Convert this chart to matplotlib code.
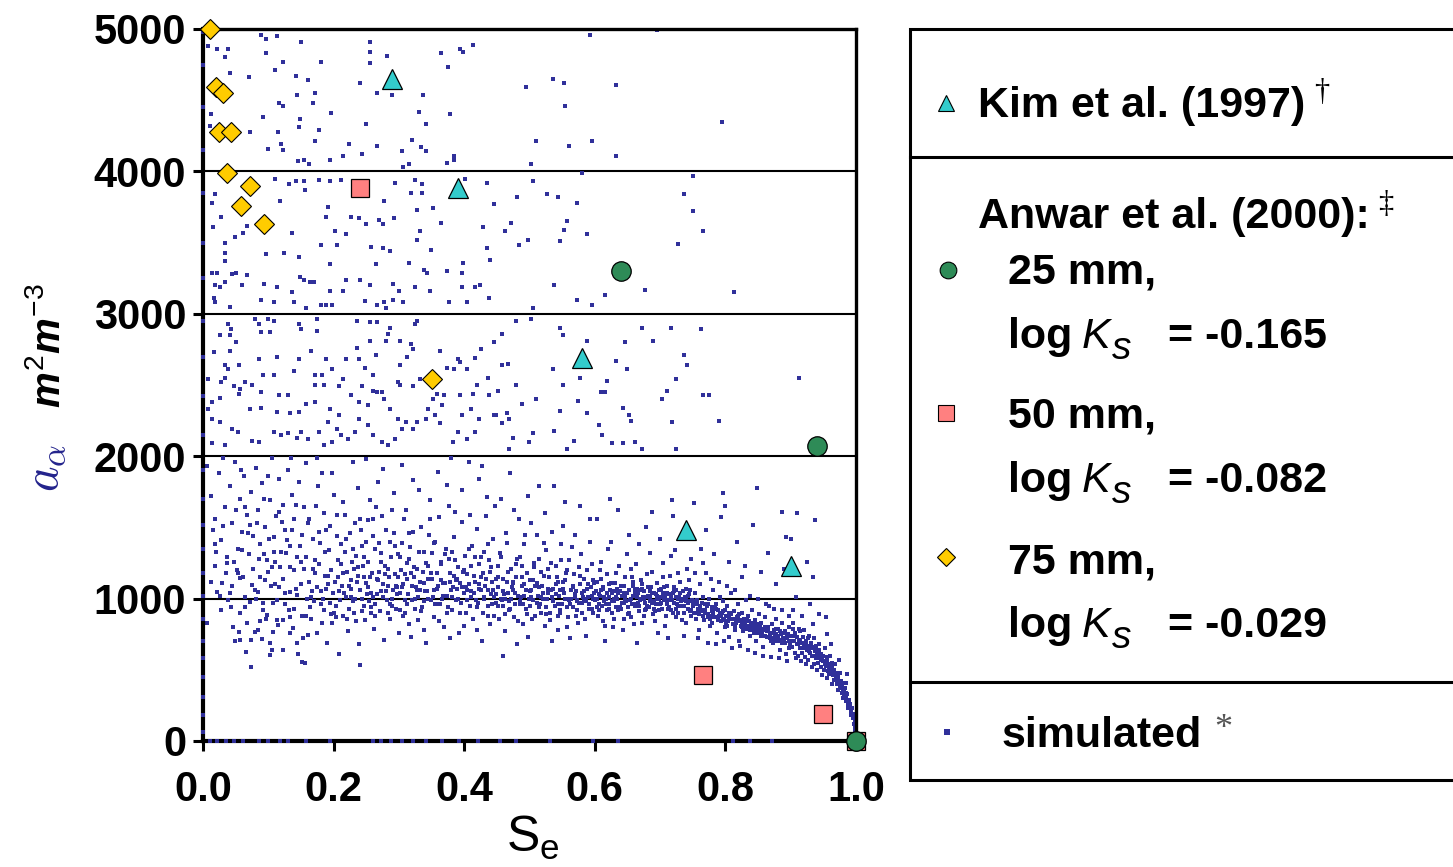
### PACKAGES ###
import numpy as np
import matplotlib
matplotlib.use('Agg')
import matplotlib.pyplot as plt
from matplotlib.patches import Rectangle
from matplotlib.lines import Line2D

plt.rcParams['font.family'] = ['Liberation Sans', 'DejaVu Sans']
plt.rcParams['mathtext.fontset'] = 'custom'
plt.rcParams['mathtext.rm'] = 'Liberation Sans'
plt.rcParams['mathtext.it'] = 'Liberation Sans:italic:bold'
plt.rcParams['mathtext.bf'] = 'Liberation Sans:bold'

### DATA ###
# measured points (Se, a_a in m2/m3)
kim_se = [0.29, 0.39, 0.58, 0.74, 0.90]
kim_aa = [4650, 3880, 2690, 1480, 1230]
anwar25_se = [0.64, 0.94, 1.00]
anwar25_aa = [3300, 2075, 0]
anwar50_se = [0.24, 0.765, 0.95, 1.00]
anwar50_aa = [3880, 460, 190, 0]
anwar75_se = [0.011, 0.020, 0.031, 0.025, 0.043, 0.037, 0.072, 0.058, 0.093, 0.351]
anwar75_aa = [5000, 4590, 4550, 4280, 4280, 3990, 3900, 3760, 3630, 2540]

# simulated cloud, read off the picture region by region (Se, a_a)
sim_top = [
    (0.089, 4960), (0.096, 4930), (0.113, 4950), (0.150, 4910), (0.256, 4910), (0.282, 4810), (0.364, 4830),
    (0.393, 4860), (0.398, 4840), (0.414, 4890), (0.592, 4960), (0.696, 4990), (0.008, 4880), (0.021, 4860),
    (0.038, 4860), (0.034, 4800), (0.096, 4830), (0.123, 4770), (0.180, 4770), (0.256, 4840), (0.256, 4760),
    (0.375, 4730), (0.111, 4710), (0.041, 4690), (0.070, 4660), (0.142, 4670), (0.161, 4640), (0.241, 4620),
    (0.267, 4550), (0.289, 4540), (0.337, 4540), (0.171, 4550), (0.144, 4540), (0.116, 4480), (0.123, 4460),
    (0.168, 4480), (0.196, 4410), (0.331, 4420), (0.378, 4400), (0.092, 4380), (0.149, 4370), (0.147, 4310),
    (0.178, 4290), (0.250, 4330), (0.341, 4330), (0.072, 4280), (0.115, 4280), (0.494, 4590), (0.536, 4650),
    (0.553, 4620), (0.633, 4610), (0.555, 4460), (0.795, 4350), (0.012, 4400), (0.011, 4320), (0.171, 4210),
    (0.224, 4190), (0.267, 4180), (0.320, 4220), (0.334, 4170), (0.341, 4140), (0.304, 4140), (0.384, 4110),
    (0.385, 4080), (0.243, 4120), (0.215, 4110), (0.195, 4080), (0.154, 4080), (0.145, 4070), (0.163, 4050),
    (0.373, 4060), (0.316, 4050), (0.306, 4030), (0.099, 4160), (0.120, 4190), (0.122, 4150), (0.510, 4210),
    (0.560, 4180), (0.596, 4210), (0.632, 4110), (0.503, 4050),
]
sim_mid = [
    (0.111, 3950), (0.131, 3910), (0.142, 3930), (0.154, 3930), (0.156, 3870), (0.178, 3940), (0.194, 3930),
    (0.212, 3940), (0.277, 3790), (0.294, 3920), (0.325, 3940), (0.335, 3910), (0.318, 3850), (0.335, 3850),
    (0.327, 3730), (0.352, 3740), (0.401, 3950), (0.435, 3920), (0.446, 3770), (0.481, 3820), (0.505, 3930),
    (0.527, 3840), (0.544, 3820), (0.573, 3780), (0.581, 3990), (0.736, 3840), (0.751, 3970), (0.751, 3720),
    (0.766, 3580), (0.727, 3490), (0.014, 3780), (0.019, 3840), (0.027, 3680), (0.015, 3610), (0.034, 3500),
    (0.049, 3540), (0.062, 3570), (0.067, 3620), (0.118, 3790), (0.137, 3570), (0.192, 3750), (0.188, 3680),
    (0.202, 3580), (0.219, 3560), (0.226, 3680), (0.239, 3670), (0.250, 3630), (0.270, 3660), (0.275, 3630),
    (0.293, 3670), (0.332, 3580), (0.328, 3520), (0.364, 3640), (0.349, 3450), (0.429, 3610), (0.463, 3580),
    (0.472, 3640), (0.497, 3520), (0.484, 3480), (0.546, 3510), (0.553, 3590), (0.557, 3650), (0.588, 3560),
    (0.435, 3460), (0.440, 3380), (0.257, 3470), (0.275, 3460), (0.287, 3440), (0.181, 3480), (0.205, 3480),
    (0.147, 3400), (0.124, 3430), (0.096, 3420), (0.034, 3430), (0.034, 3370), (0.014, 3290), (0.021, 3290),
    (0.044, 3280), (0.051, 3290), (0.068, 3270), (0.034, 3220), (0.019, 3200), (0.026, 3190), (0.060, 3200),
    (0.094, 3210), (0.113, 3190), (0.149, 3260), (0.154, 3240), (0.164, 3220), (0.170, 3220), (0.195, 3350),
    (0.195, 3160), (0.219, 3240), (0.241, 3240), (0.256, 3200), (0.265, 3350), (0.291, 3210), (0.300, 3160),
    (0.315, 3360), (0.339, 3310), (0.343, 3290), (0.374, 3300), (0.398, 3360), (0.397, 3290), (0.325, 3190),
    (0.347, 3160), (0.397, 3190), (0.417, 3190), (0.424, 3200), (0.538, 3200), (0.677, 3170), (0.813, 3150),
    (0.616, 3130), (0.573, 3100), (0.595, 3060), (0.506, 3040), (0.438, 3110), (0.376, 3080), (0.405, 3080),
    (0.017, 3110), (0.019, 3080), (0.041, 3050), (0.089, 3100), (0.109, 3080), (0.137, 3150), (0.140, 3080),
    (0.157, 3040), (0.181, 3060), (0.188, 3060), (0.198, 3060), (0.215, 3160), (0.248, 3090), (0.267, 3060),
    (0.280, 3040), (0.277, 3080), (0.306, 3080), (0.291, 3100),
]
sim_low = [
    (0.038, 2930), (0.043, 2890), (0.041, 2850), (0.026, 2850), (0.051, 2800), (0.017, 2730), (0.041, 2740),
    (0.034, 2640), (0.055, 2640), (0.038, 2610), (0.034, 2550), (0.007, 2540), (0.027, 2520), (0.048, 2490),
    (0.057, 2470), (0.065, 2520), (0.075, 2500), (0.089, 2450), (0.055, 2440), (0.026, 2410), (0.014, 2380),
    (0.007, 2330), (0.014, 2260), (0.026, 2240), (0.044, 2190), (0.053, 2170), (0.075, 2110), (0.086, 2100),
    (0.014, 2090), (0.034, 2080), (0.079, 2960), (0.086, 2930), (0.100, 2960), (0.108, 2950), (0.089, 2870),
    (0.103, 2870), (0.086, 2680), (0.092, 2570), (0.109, 2570), (0.113, 2700), (0.116, 2430), (0.130, 2430),
    (0.072, 2330), (0.089, 2340), (0.113, 2310), (0.133, 2300), (0.147, 2310), (0.109, 2170), (0.120, 2150),
    (0.130, 2160), (0.144, 2130), (0.150, 2170), (0.161, 2120), (0.147, 2930), (0.150, 2890), (0.174, 2960),
    (0.174, 2880), (0.166, 2740), (0.188, 2680), (0.147, 2680), (0.140, 2600), (0.171, 2570), (0.183, 2570),
    (0.198, 2610), (0.215, 2540), (0.209, 2490), (0.185, 2500), (0.171, 2500), (0.157, 2370), (0.171, 2380),
    (0.195, 2330), (0.209, 2290), (0.192, 2240), (0.205, 2190), (0.212, 2150), (0.178, 2170), (0.185, 2080),
    (0.198, 2100), (0.236, 2950), (0.256, 2940), (0.267, 2940), (0.287, 2900), (0.284, 2860), (0.256, 2810),
    (0.280, 2810), (0.301, 2810), (0.318, 2790), (0.325, 2930), (0.327, 2950), (0.236, 2760), (0.219, 2680),
    (0.239, 2680), (0.265, 2710), (0.248, 2620), (0.260, 2570), (0.301, 2640), (0.313, 2700), (0.321, 2750),
    (0.298, 2520), (0.301, 2500), (0.321, 2490), (0.332, 2540), (0.363, 2740), (0.390, 2680), (0.393, 2660),
    (0.374, 2620), (0.384, 2610), (0.404, 2610), (0.417, 2690), (0.426, 2750), (0.445, 2800), (0.458, 2860),
    (0.480, 2950), (0.503, 2960), (0.547, 2900), (0.552, 2850), (0.588, 2810), (0.646, 2800), (0.672, 2900),
    (0.689, 2810), (0.716, 2900), (0.763, 2890), (0.736, 2710), (0.741, 2640), (0.632, 2670), (0.650, 2610),
    (0.577, 2550), (0.536, 2610), (0.436, 2550), (0.458, 2640), (0.467, 2650), (0.419, 2500), (0.393, 2430),
    (0.414, 2440), (0.438, 2430), (0.451, 2460), (0.479, 2500), (0.489, 2370), (0.510, 2400), (0.552, 2500),
    (0.575, 2390), (0.588, 2300), (0.609, 2450), (0.616, 2450), (0.619, 2530), (0.643, 2340), (0.653, 2290),
    (0.655, 2250), (0.703, 2400), (0.710, 2460), (0.725, 2540), (0.766, 2430), (0.775, 2430), (0.790, 2250),
    (0.912, 2550), (0.718, 2240), (0.546, 2320), (0.607, 2220), (0.611, 2150), (0.626, 2090), (0.643, 2090),
    (0.662, 2100), (0.672, 2050), (0.725, 2050), (0.568, 2110), (0.558, 2050), (0.537, 2180), (0.506, 2160),
    (0.499, 2100), (0.475, 2130), (0.469, 2050), (0.458, 2230), (0.469, 2260), (0.445, 2290), (0.423, 2260),
    (0.417, 2170), (0.404, 2120), (0.390, 2170), (0.383, 2100), (0.363, 2230), (0.356, 2290), (0.342, 2260),
    (0.328, 2240), (0.321, 2190), (0.311, 2240), (0.304, 2190), (0.294, 2120), (0.284, 2080), (0.274, 2100),
    (0.260, 2150), (0.253, 2220), (0.239, 2260), (0.233, 2170), (0.222, 2120), (0.287, 2330), (0.298, 2260),
    (0.345, 2330), (0.366, 2360), (0.352, 2400), (0.359, 2440), (0.369, 2430), (0.397, 2290), (0.410, 2330),
    (0.448, 2290), (0.465, 2300), (0.260, 2460), (0.267, 2450), (0.274, 2450), (0.277, 2400), (0.253, 2360),
    (0.243, 2490), (0.226, 2430), (0.239, 2380),
]
sim_left = [
    (0.006, 830), (0.028, 920), (0.043, 940), (0.057, 900), (0.046, 800), (0.055, 765), (0.049, 700),
    (0.057, 710), (0.066, 625), (0.073, 520), (0.073, 710), (0.080, 765), (0.084, 780), (0.090, 715),
    (0.103, 690), (0.106, 640), (0.103, 605), (0.123, 640), (0.152, 555), (0.156, 548), (0.113, 850),
    (0.107, 765), (0.133, 760), (0.138, 795), (0.144, 690), (0.153, 725), (0.161, 745), (0.098, 885),
    (0.092, 920), (0.072, 975), (0.123, 850), (0.133, 870), (0.115, 815), (0.021, 1045), (0.029, 1110),
    (0.041, 1040), (0.057, 1145), (0.061, 1150), (0.052, 1200), (0.075, 1095), (0.084, 1045), (0.095, 1130),
    (0.106, 1220), (0.116, 1080), (0.126, 1040), (0.133, 1045), (0.092, 970), (0.107, 970), (0.144, 1025),
    (0.118, 1220), (0.133, 1220), (0.100, 1185), (0.035, 1180), (0.064, 1010), (0.081, 1000), (0.110, 1100),
    (0.140, 930), (0.150, 1100), (0.158, 880), (0.125, 960), (0.068, 830), (0.088, 840), (0.146, 610),
    (0.018, 1230), (0.038, 990), (0.160, 1000), (0.155, 1210),
    (0.006, 1930), (0.012, 1720), (0.018, 1560), (0.024, 1880), (0.027, 1410), (0.033, 1640), (0.036, 1290),
    (0.041, 1790), (0.045, 1530), (0.049, 1960), (0.053, 1350), (0.056, 1700), (0.060, 1470), (0.063, 1860),
    (0.067, 1590), (0.070, 1310), (0.074, 1750), (0.077, 1440), (0.081, 1920), (0.084, 1620), (0.088, 1380),
    (0.091, 1810), (0.095, 1500), (0.098, 1270), (0.102, 1690), (0.105, 1990), (0.109, 1430), (0.112, 1580),
    (0.116, 1840), (0.119, 1330), (0.123, 1660), (0.126, 1480), (0.130, 1900), (0.133, 1370), (0.137, 1730),
    (0.140, 1560), (0.144, 1290), (0.147, 1820), (0.151, 1450), (0.155, 1640), (0.158, 1950), (0.020, 1330),
    (0.030, 1990), (0.047, 1260), (0.058, 1900), (0.072, 1520), (0.086, 1280), (0.094, 1700), (0.108, 1330),
    (0.121, 1540), (0.135, 1990), (0.150, 1260), (0.016, 1480), (0.064, 1640), (0.099, 1860), (0.128, 1410),
    (0.142, 1660),
]
sim_band_a = [
    (0.162, 1120), (0.165, 860), (0.168, 1420), (0.170, 980), (0.173, 1650), (0.175, 760), (0.178, 1240),
    (0.180, 1050), (0.183, 1880), (0.185, 920), (0.187, 1330), (0.190, 690), (0.192, 1160), (0.194, 1510),
    (0.197, 830), (0.199, 1040), (0.201, 1730), (0.204, 950), (0.206, 1270), (0.208, 610), (0.211, 1380),
    (0.213, 1090), (0.215, 880), (0.218, 1590), (0.220, 1190), (0.222, 770), (0.225, 1460), (0.227, 1010),
    (0.229, 1960), (0.232, 900), (0.234, 1300), (0.236, 1120), (0.239, 680), (0.241, 1560), (0.243, 1000),
    (0.245, 1230), (0.248, 850), (0.250, 1400), (0.252, 1080), (0.255, 1690), (0.257, 940), (0.259, 1180),
    (0.262, 790), (0.264, 1350), (0.266, 1030), (0.268, 1820), (0.271, 910), (0.273, 1260), (0.275, 1100),
    (0.277, 710), (0.280, 1480), (0.282, 990), (0.284, 1210), (0.287, 860), (0.289, 1620), (0.291, 1060),
    (0.294, 1370), (0.296, 930), (0.298, 1150), (0.300, 760), (0.163, 1560), (0.171, 1270), (0.179, 1390),
    (0.188, 1070), (0.196, 1200), (0.203, 870), (0.212, 1240), (0.219, 1010), (0.226, 1130), (0.233, 1530),
    (0.240, 1060), (0.247, 1290), (0.254, 980), (0.261, 1440), (0.267, 1140), (0.274, 1580), (0.281, 1050),
    (0.288, 1290), (0.295, 1090), (0.167, 1050), (0.176, 1790), (0.186, 1600), (0.195, 970), (0.205, 1440),
    (0.214, 1680), (0.223, 930), (0.231, 1210), (0.238, 1780), (0.246, 1150), (0.253, 1550), (0.260, 1010),
    (0.269, 1390), (0.276, 1910), (0.285, 1150), (0.293, 1740), (0.299, 1310), (0.182, 830), (0.209, 1050),
    (0.235, 840), (0.258, 900), (0.286, 960), (0.244, 1370), (0.217, 1330), (0.270, 1190), (0.189, 1480),
    (0.228, 1260), (0.292, 1460), (0.265, 1640), (0.249, 1980), (0.198, 1880), (0.174, 1990), (0.240, 537),
    (0.302, 1040), (0.304, 1390), (0.306, 880), (0.309, 1170), (0.311, 1620), (0.313, 960), (0.315, 1280),
    (0.318, 730), (0.320, 1090), (0.322, 1470), (0.324, 1000), (0.327, 1210), (0.329, 850), (0.331, 1760),
    (0.333, 1120), (0.336, 940), (0.338, 1330), (0.340, 1050), (0.342, 690), (0.345, 1230), (0.347, 1560),
    (0.349, 990), (0.351, 1140), (0.354, 870), (0.356, 1400), (0.358, 1070), (0.360, 1890), (0.363, 960),
    (0.365, 1260), (0.367, 1110), (0.369, 800), (0.372, 1350), (0.374, 1020), (0.376, 1650), (0.378, 1180),
    (0.381, 920), (0.383, 1080), (0.385, 1430), (0.387, 990), (0.390, 1220), (0.392, 760), (0.394, 1110),
    (0.396, 1540), (0.399, 1040), (0.401, 1300), (0.403, 900), (0.405, 1170), (0.408, 1960), (0.410, 1010),
    (0.412, 1370), (0.414, 860), (0.417, 1120), (0.419, 1490), (0.421, 970), (0.423, 1240), (0.426, 1060),
    (0.428, 700), (0.430, 1330), (0.432, 1090), (0.435, 1710), (0.437, 950), (0.439, 1190), (0.441, 1030),
    (0.444, 1420), (0.446, 880), (0.448, 1140), (0.303, 1200), (0.310, 990), (0.317, 1360), (0.323, 1150),
    (0.330, 1010), (0.337, 1190), (0.343, 1050), (0.350, 1320), (0.357, 960), (0.364, 1130), (0.370, 1020),
    (0.377, 1280), (0.384, 1160), (0.391, 1000), (0.398, 1190), (0.404, 1060), (0.411, 1230), (0.418, 990),
    (0.425, 1150), (0.431, 1000), (0.438, 1270), (0.445, 1010), (0.308, 1560), (0.321, 1830), (0.334, 1500),
    (0.348, 1690), (0.361, 1570), (0.373, 1800), (0.386, 1610), (0.397, 1760), (0.409, 1590), (0.422, 1840),
    (0.434, 1580), (0.447, 1650), (0.316, 820), (0.339, 780), (0.362, 840), (0.379, 720), (0.400, 810),
    (0.420, 780), (0.440, 820), (0.326, 1080), (0.353, 1060), (0.371, 1110), (0.389, 1070), (0.407, 1100),
    (0.429, 1180), (0.443, 1120), (0.312, 1250), (0.346, 1450), (0.382, 1330), (0.416, 1290), (0.436, 1380),
    (0.305, 1940), (0.380, 1990), (0.427, 1930),
]
sim_band_b = [
    (0.451, 1080), (0.453, 860), (0.455, 1320), (0.458, 990), (0.460, 1140), (0.462, 770), (0.464, 1460),
    (0.467, 1040), (0.469, 920), (0.471, 1210), (0.473, 1080), (0.476, 1620), (0.478, 960), (0.480, 1150),
    (0.482, 840), (0.485, 1290), (0.487, 1010), (0.489, 1090), (0.491, 1380), (0.494, 930), (0.496, 1180),
    (0.498, 730), (0.500, 1050), (0.503, 1530), (0.505, 990), (0.507, 1250), (0.509, 880), (0.512, 1110),
    (0.514, 1790), (0.516, 960), (0.518, 1190), (0.521, 1040), (0.523, 810), (0.525, 1340), (0.527, 1000),
    (0.530, 1150), (0.532, 900), (0.534, 1470), (0.536, 1070), (0.539, 950), (0.541, 1230), (0.543, 780),
    (0.545, 1020), (0.548, 1380), (0.550, 960), (0.552, 1120), (0.554, 1680), (0.557, 1000), (0.559, 870),
    (0.561, 1270), (0.563, 1060), (0.566, 940), (0.568, 1170), (0.570, 1450), (0.572, 990), (0.575, 830),
    (0.577, 1100), (0.579, 1310), (0.581, 970), (0.584, 1050), (0.586, 740), (0.588, 1200), (0.590, 1010),
    (0.593, 1560), (0.595, 930), (0.597, 1130), (0.599, 1040), (0.452, 1230), (0.459, 950), (0.466, 1120),
    (0.472, 1000), (0.479, 1240), (0.486, 980), (0.492, 1100), (0.499, 1000), (0.506, 1130), (0.513, 1020),
    (0.519, 1090), (0.526, 940), (0.533, 1060), (0.540, 1100), (0.546, 900), (0.553, 1040), (0.560, 990),
    (0.567, 1080), (0.573, 920), (0.580, 1040), (0.587, 980), (0.594, 1080), (0.456, 1700), (0.470, 1880),
    (0.484, 1560), (0.497, 1720), (0.511, 1450), (0.524, 1600), (0.538, 1790), (0.551, 1510), (0.565, 1360),
    (0.578, 1650), (0.592, 1400), (0.463, 890), (0.477, 870), (0.490, 820), (0.504, 860), (0.517, 900),
    (0.531, 850), (0.544, 880), (0.558, 800), (0.571, 880), (0.585, 860), (0.598, 900), (0.457, 1000),
    (0.474, 1060), (0.488, 1230), (0.501, 950), (0.515, 1280), (0.529, 1210), (0.542, 1150), (0.556, 1180),
    (0.569, 1010), (0.583, 1140), (0.596, 1240), (0.465, 1390), (0.493, 1450), (0.522, 1390), (0.549, 1270),
    (0.576, 1220), (0.481, 680), (0.535, 700), (0.562, 720), (0.460, 600),
    (0.601, 990), (0.603, 1120), (0.605, 880), (0.607, 1030), (0.609, 1260), (0.611, 950), (0.613, 1080),
    (0.615, 810), (0.617, 1000), (0.619, 1170), (0.621, 930), (0.623, 1060), (0.625, 1400), (0.627, 980),
    (0.629, 860), (0.631, 1110), (0.633, 1010), (0.635, 920), (0.637, 1230), (0.639, 1050), (0.641, 970),
    (0.643, 780), (0.645, 1090), (0.647, 1000), (0.649, 1310), (0.651, 940), (0.653, 1060), (0.655, 870),
    (0.657, 1150), (0.659, 1020), (0.661, 960), (0.663, 1240), (0.665, 1070), (0.667, 910), (0.669, 1000),
    (0.671, 1130), (0.673, 830), (0.675, 1050), (0.677, 970), (0.679, 1500), (0.681, 1080), (0.683, 940),
    (0.685, 1010), (0.687, 1190), (0.689, 890), (0.691, 1040), (0.693, 960), (0.695, 1110), (0.697, 760),
    (0.699, 1000), (0.701, 1070), (0.703, 930), (0.705, 1250), (0.707, 1020), (0.709, 880), (0.711, 1090),
    (0.713, 990), (0.715, 1160), (0.717, 920), (0.719, 1040), (0.721, 970), (0.723, 1340), (0.725, 1060),
    (0.727, 900), (0.729, 1010), (0.731, 1120), (0.733, 850), (0.735, 1000), (0.737, 950), (0.739, 1070),
    (0.741, 1210), (0.743, 930), (0.745, 1030), (0.747, 880), (0.749, 990), (0.602, 1050), (0.606, 960),
    (0.610, 1140), (0.614, 1010), (0.618, 920), (0.622, 1100), (0.626, 1040), (0.630, 980), (0.634, 1070),
    (0.638, 940), (0.642, 1020), (0.646, 1150), (0.650, 1040), (0.654, 990), (0.658, 1090), (0.662, 1030),
    (0.666, 970), (0.670, 1060), (0.674, 1010), (0.678, 930), (0.682, 1020), (0.686, 1080), (0.690, 980),
    (0.694, 1030), (0.698, 920), (0.702, 1010), (0.706, 1080), (0.710, 960), (0.714, 1030), (0.718, 990),
    (0.722, 1050), (0.726, 960), (0.730, 1040), (0.734, 990), (0.738, 1010), (0.742, 970), (0.746, 1060),
    (0.604, 1560), (0.620, 1350), (0.636, 1620), (0.652, 1450), (0.668, 1380), (0.684, 1320), (0.700, 1420),
    (0.716, 1300), (0.732, 1440), (0.748, 1280), (0.612, 840), (0.628, 800), (0.644, 860), (0.660, 820),
    (0.676, 880), (0.692, 840), (0.708, 810), (0.724, 870), (0.740, 830), (0.608, 1200), (0.632, 1180),
    (0.656, 1210), (0.680, 1170), (0.704, 1150), (0.728, 1180), (0.744, 1130), (0.616, 700), (0.664, 690),
    (0.712, 720), (0.736, 740), (0.624, 1700), (0.688, 1610), (0.720, 1580), (0.718, 1690), (0.752, 1670),
]
sim_band_c = [
    (0.751, 950), (0.753, 1040), (0.755, 860), (0.757, 990), (0.759, 780), (0.761, 1100), (0.763, 920),
    (0.765, 1010), (0.767, 850), (0.769, 960), (0.771, 1180), (0.773, 890), (0.775, 1000), (0.777, 810),
    (0.779, 940), (0.781, 1060), (0.783, 870), (0.785, 960), (0.787, 760), (0.789, 920), (0.791, 1010),
    (0.793, 840), (0.795, 900), (0.797, 980), (0.799, 800), (0.801, 880), (0.803, 950), (0.805, 730),
    (0.807, 860), (0.809, 1040), (0.811, 820), (0.813, 910), (0.815, 780), (0.817, 870), (0.819, 960),
    (0.821, 700), (0.823, 840), (0.825, 900), (0.827, 770), (0.829, 860), (0.831, 990), (0.833, 810),
    (0.835, 880), (0.837, 740), (0.839, 830), (0.841, 920), (0.843, 780), (0.845, 850), (0.847, 700),
    (0.849, 810), (0.851, 890), (0.853, 760), (0.855, 830), (0.857, 660), (0.859, 790), (0.861, 870),
    (0.863, 730), (0.865, 800), (0.867, 950), (0.869, 750), (0.871, 820), (0.873, 690), (0.875, 780),
    (0.877, 860), (0.879, 720), (0.881, 790), (0.883, 640), (0.885, 750), (0.887, 830), (0.889, 700),
    (0.891, 770), (0.893, 610), (0.895, 730), (0.897, 800), (0.899, 680), (0.752, 900), (0.756, 960),
    (0.760, 890), (0.764, 970), (0.768, 900), (0.772, 950), (0.776, 880), (0.780, 910), (0.784, 940),
    (0.788, 870), (0.792, 900), (0.796, 850), (0.800, 920), (0.804, 840), (0.808, 890), (0.812, 860),
    (0.816, 830), (0.820, 880), (0.824, 810), (0.828, 850), (0.832, 790), (0.836, 840), (0.840, 800),
    (0.844, 760), (0.848, 820), (0.852, 790), (0.856, 750), (0.860, 800), (0.864, 770), (0.868, 720),
    (0.872, 760), (0.876, 740), (0.880, 700), (0.884, 770), (0.888, 720), (0.892, 690), (0.896, 750),
    (0.754, 1180), (0.766, 1250), (0.778, 1140), (0.790, 1120), (0.802, 1090), (0.814, 1060), (0.826, 1150),
    (0.838, 1020), (0.850, 1000), (0.862, 960), (0.874, 930), (0.886, 920), (0.898, 880), (0.758, 720),
    (0.774, 690), (0.786, 680), (0.798, 700), (0.810, 650), (0.822, 670), (0.834, 640), (0.846, 620),
    (0.858, 600), (0.870, 590), (0.882, 580), (0.894, 560), (0.762, 1350), (0.782, 1310), (0.806, 1260),
    (0.830, 1230), (0.854, 1190), (0.878, 1100), (0.770, 1480), (0.818, 1400), (0.866, 1320), (0.794, 1570),
    (0.842, 1520), (0.890, 1210), (0.780, 830), (0.803, 810), (0.826, 800), (0.850, 760), (0.874, 700),
    (0.898, 650), (0.797, 1740), (0.848, 1780), (0.800, 1650), (0.886, 1610),
    (0.901, 740), (0.902, 660), (0.903, 790), (0.905, 700), (0.906, 620), (0.907, 760), (0.909, 680),
    (0.910, 730), (0.911, 600), (0.913, 710), (0.914, 650), (0.915, 770), (0.917, 690), (0.918, 620),
    (0.919, 730), (0.921, 660), (0.922, 590), (0.923, 700), (0.925, 640), (0.926, 720), (0.927, 570),
    (0.929, 670), (0.930, 620), (0.931, 690), (0.933, 600), (0.934, 650), (0.935, 540), (0.937, 630),
    (0.938, 580), (0.939, 670), (0.941, 610), (0.942, 550), (0.943, 640), (0.945, 590), (0.946, 520),
    (0.947, 610), (0.949, 560), (0.950, 600), (0.951, 500), (0.953, 560), (0.954, 530), (0.955, 590),
    (0.957, 490), (0.958, 540), (0.959, 470), (0.961, 520), (0.962, 480), (0.963, 550), (0.965, 460),
    (0.966, 500), (0.967, 430), (0.969, 480), (0.970, 440), (0.971, 400), (0.973, 450), (0.974, 410),
    (0.975, 370), (0.977, 420), (0.978, 380), (0.979, 340), (0.981, 360), (0.982, 320), (0.983, 370),
    (0.985, 300), (0.986, 330), (0.987, 270), (0.989, 290), (0.990, 240), (0.991, 260), (0.993, 200),
    (0.994, 230), (0.995, 160), (0.996, 190), (0.997, 120), (0.998, 140), (0.998, 80), (0.999, 100),
    (0.999, 50), (1.000, 30), (1.000, 10), (0.904, 830), (0.912, 790), (0.920, 780), (0.928, 740),
    (0.936, 720), (0.944, 680), (0.952, 650), (0.960, 600), (0.968, 540), (0.976, 480), (0.984, 410),
    (0.908, 580), (0.916, 560), (0.924, 540), (0.932, 520), (0.940, 500), (0.948, 460), (0.956, 440),
    (0.964, 400), (0.972, 360), (0.980, 300), (0.988, 230), (0.903, 920), (0.918, 880), (0.934, 820),
    (0.955, 750), (0.908, 1010), (0.930, 960), (0.944, 890), (0.962, 680), (0.974, 570), (0.986, 470),
    (0.910, 1600), (0.937, 1550), (0.934, 1150), (0.954, 870), (0.900, 1420), (0.925, 1260), (0.893, 1430),
]
sim_core = [
    (0.452, 950), (0.461, 1030), (0.468, 980), (0.475, 1110), (0.483, 1020), (0.490, 960), (0.495, 1060),
    (0.502, 1010), (0.508, 1090), (0.515, 940), (0.520, 1000), (0.528, 1070), (0.535, 1010), (0.544, 960),
    (0.547, 1060), (0.555, 1130), (0.558, 940), (0.564, 1000), (0.571, 1050), (0.576, 970), (0.582, 1010),
    (0.589, 1100), (0.591, 930), (0.598, 1000), (0.603, 940), (0.608, 1020), (0.612, 1070), (0.617, 960),
    (0.621, 1010), (0.626, 900), (0.629, 1050), (0.634, 1000), (0.640, 930), (0.644, 1040), (0.648, 980),
    (0.652, 900), (0.657, 960), (0.661, 1060), (0.664, 1010), (0.668, 950), (0.672, 1100), (0.676, 1000),
    (0.680, 950), (0.684, 1050), (0.688, 970), (0.692, 910), (0.696, 1020), (0.700, 960), (0.704, 1040),
    (0.708, 990), (0.712, 930), (0.716, 1000), (0.720, 900), (0.724, 1010), (0.728, 950), (0.732, 980),
    (0.736, 900), (0.740, 1010), (0.744, 980), (0.748, 920), (0.753, 980), (0.757, 900), (0.761, 950),
    (0.765, 880), (0.769, 920), (0.773, 960), (0.777, 860), (0.781, 900), (0.785, 930), (0.789, 850),
    (0.793, 880), (0.797, 910), (0.801, 830), (0.805, 870), (0.809, 900), (0.813, 820), (0.817, 850),
    (0.821, 890), (0.825, 830), (0.829, 800), (0.833, 860), (0.837, 810), (0.841, 780), (0.845, 830),
    (0.849, 770), (0.853, 810), (0.857, 780), (0.861, 740), (0.865, 780), (0.869, 760), (0.873, 720),
    (0.877, 790), (0.881, 740), (0.885, 710), (0.889, 760), (0.893, 720), (0.897, 700), (0.902, 700),
    (0.906, 740), (0.911, 680), (0.915, 710), (0.919, 650), (0.923, 680), (0.928, 630), (0.932, 660),
    (0.936, 600), (0.940, 630), (0.944, 580), (0.948, 590), (0.952, 540), (0.956, 560), (0.960, 500),
    (0.964, 520), (0.968, 470), (0.972, 430), (0.976, 400), (0.980, 350), (0.984, 340), (0.988, 260),
    (0.992, 220), (0.165, 1010), (0.172, 1180), (0.181, 960), (0.191, 1100), (0.200, 900), (0.207, 1150),
    (0.216, 1040), (0.224, 1090), (0.230, 980), (0.237, 1220), (0.244, 910), (0.251, 1030), (0.256, 1150),
    (0.263, 960), (0.272, 1050), (0.279, 1170), (0.283, 900), (0.290, 1000), (0.297, 1080), (0.301, 920),
    (0.307, 1100), (0.314, 1030), (0.319, 1180), (0.325, 930), (0.332, 1060), (0.339, 980), (0.344, 1140),
    (0.352, 1010), (0.359, 1180), (0.366, 1000), (0.373, 900), (0.380, 1060), (0.388, 1130), (0.395, 970),
    (0.402, 1080), (0.409, 950), (0.415, 1040), (0.422, 1100), (0.429, 900), (0.436, 1060), (0.442, 960),
    (0.449, 1030),
]
sim_fill = [
    (0.012, 1120), (0.019, 1380), (0.026, 1020), (0.031, 1510), (0.037, 1250), (0.044, 1090), (0.050, 1620),
    (0.054, 1180), (0.059, 1340), (0.065, 940), (0.069, 1460), (0.076, 1210), (0.079, 1060), (0.083, 1530),
    (0.087, 1150), (0.093, 1310), (0.097, 860), (0.101, 1420), (0.104, 1090), (0.110, 1260), (0.114, 990),
    (0.117, 1610), (0.122, 1140), (0.127, 1320), (0.131, 920), (0.136, 1480), (0.139, 1200), (0.143, 1070),
    (0.148, 1370), (0.152, 880), (0.157, 1290), (0.161, 1530), (0.164, 940), (0.169, 1210), (0.174, 1080),
    (0.177, 1470), (0.184, 1000), (0.187, 1160), (0.193, 1340), (0.196, 890), (0.202, 1120), (0.205, 1590),
    (0.210, 990), (0.214, 1180), (0.219, 1420), (0.221, 860), (0.226, 1070), (0.230, 1350), (0.233, 1000),
    (0.238, 1160), (0.242, 1480), (0.246, 950), (0.249, 1110), (0.253, 1260), (0.257, 1040), (0.260, 1560),
    (0.264, 880), (0.268, 1130), (0.272, 1320), (0.276, 1010), (0.279, 1230), (0.283, 1090), (0.287, 1400),
    (0.290, 950), (0.294, 1170), (0.297, 1030), (0.301, 1290), (0.305, 1080), (0.309, 900), (0.312, 1140),
    (0.316, 1460), (0.320, 990), (0.323, 1220), (0.327, 1060), (0.331, 1330), (0.334, 910), (0.338, 1110),
    (0.342, 1250), (0.345, 1000), (0.349, 1180), (0.353, 1390), (0.356, 960), (0.360, 1090), (0.364, 1240),
    (0.367, 1020), (0.371, 1310), (0.375, 940), (0.378, 1120), (0.382, 1010), (0.386, 1270), (0.389, 1140),
    (0.393, 900), (0.397, 1080), (0.400, 1200), (0.404, 990), (0.408, 1350), (0.411, 1050), (0.415, 1160),
    (0.419, 940), (0.422, 1070), (0.426, 1290), (0.430, 1010), (0.433, 1140), (0.437, 880), (0.441, 1220),
    (0.444, 1060), (0.448, 970), (0.452, 1150), (0.456, 1290), (0.459, 1050), (0.463, 1000), (0.467, 1190),
    (0.470, 930), (0.474, 1120), (0.478, 1040), (0.481, 1280), (0.485, 960), (0.489, 1150), (0.492, 1020),
    (0.496, 890), (0.500, 1130), (0.503, 1060), (0.507, 1220), (0.511, 970), (0.514, 1080), (0.518, 1010),
    (0.522, 1160), (0.525, 890), (0.529, 1040), (0.533, 1250), (0.536, 980), (0.540, 1030), (0.544, 1120),
    (0.547, 920), (0.551, 1070), (0.555, 1000), (0.558, 1200), (0.562, 960), (0.566, 1090), (0.569, 1030),
    (0.573, 980), (0.577, 1160), (0.580, 900), (0.584, 1000), (0.588, 1070), (0.591, 960), (0.595, 1020),
    (0.599, 1110), (0.603, 1000), (0.607, 920), (0.610, 1060), (0.614, 980), (0.618, 1040), (0.622, 960),
    (0.625, 1110), (0.629, 1000), (0.633, 940), (0.636, 1040), (0.640, 1090), (0.644, 970), (0.647, 1020),
    (0.651, 890), (0.655, 1000), (0.658, 1120), (0.662, 950), (0.666, 1040), (0.669, 990), (0.673, 1070),
    (0.677, 920), (0.680, 1010), (0.684, 980), (0.688, 1040), (0.691, 930), (0.695, 1000), (0.699, 1060),
    (0.702, 970), (0.706, 1000), (0.710, 1040), (0.713, 940), (0.717, 1010), (0.721, 1080), (0.724, 930),
    (0.728, 1000), (0.732, 950), (0.735, 1050), (0.739, 980), (0.743, 1020), (0.746, 910), (0.750, 960),
    (0.758, 930), (0.766, 910), (0.774, 870), (0.782, 940), (0.790, 880), (0.798, 860), (0.806, 900),
    (0.814, 800), (0.822, 850), (0.830, 830), (0.838, 780), (0.846, 800), (0.854, 740), (0.862, 780),
    (0.870, 700), (0.878, 750), (0.886, 690), (0.894, 740), (0.912, 700), (0.926, 660), (0.938, 650),
    (0.946, 570), (0.958, 510), (0.966, 470), (0.978, 410), (0.984, 280), (0.992, 180),
]
# dots lying on the axes
sim_on_yaxis_aa = [60, 180, 310, 450, 580, 700, 860, 1020, 1180, 1350, 1520, 1700, 1900, 2150, 2420,
                   2700, 2950, 3250, 3500, 3850, 4150, 4450, 4750, 4980]
sim_on_xaxis_se = [0.010, 0.022, 0.035, 0.048, 0.062, 0.085, 0.100, 0.118, 0.130, 0.158, 0.195, 0.260,
                   0.272, 0.288, 0.305, 0.322, 0.341, 0.366, 0.392, 0.421, 0.455, 0.480, 0.532, 0.598,
                   0.636, 0.812, 0.838, 0.872]

x_ticks = [0.0, 0.2, 0.4, 0.6, 0.8, 1.0]
y_ticks = [0, 1000, 2000, 3000, 4000, 5000]

### COLOURS ###
c_sim = '#30309A'
c_kim = '#33CCCC'
c_25 = '#2E8B57'
c_50 = '#FF8080'
c_75 = '#FFCC00'

### PLOT ###
W, H = 1453, 867
def fx(px):
    return px / W
def fy(py):
    return 1 - py / H

fig = plt.figure(figsize=(W / 100, H / 100), dpi=100)
ax = fig.add_axes([fx(203), fy(741), fx(856) - fx(203), fy(29) - fy(741)])

for yv in y_ticks[1:-1]:
    ax.axhline(yv, color='black', lw=1.5, zorder=1)

cloud = np.array(sim_top + sim_mid + sim_low + sim_left + sim_band_a + sim_band_b + sim_band_c
                 + sim_core + sim_fill)
ax.scatter(cloud[:, 0], cloud[:, 1], s=7, marker='s', color=c_sim, linewidths=0, zorder=3)
ax.scatter(np.zeros(len(sim_on_yaxis_aa)), sim_on_yaxis_aa, s=6, marker='s', color=c_sim,
           linewidths=0, zorder=6, clip_on=False)
ax.scatter(sim_on_xaxis_se, np.zeros(len(sim_on_xaxis_se)), s=6, marker='s', color=c_sim,
           linewidths=0, zorder=6, clip_on=False)

ax.plot(kim_se, kim_aa, ls='none', marker='^', ms=14, mfc=c_kim, mec='black', mew=0.9, zorder=7, clip_on=False)
ax.plot(anwar75_se, anwar75_aa, ls='none', marker='D', ms=10, mfc=c_75, mec='black', mew=0.8, zorder=7, clip_on=False)
ax.plot(anwar50_se, anwar50_aa, ls='none', marker='s', ms=13.5, mfc=c_50, mec='black', mew=0.9, zorder=7, clip_on=False)
ax.plot(anwar25_se, anwar25_aa, ls='none', marker='o', ms=14, mfc=c_25, mec='black', mew=0.9, zorder=8, clip_on=False)

ax.set_xlim(0, 1)
ax.set_ylim(0, 5000)
ax.set_xticks(x_ticks)
ax.set_xticklabels(['%.1f' % v for v in x_ticks])
ax.set_yticks(y_ticks)
ax.set_yticklabels([str(v) for v in y_ticks])
ax.tick_params(axis='both', direction='out', length=7, width=2.2, labelsize=30)
ax.tick_params(axis='x', pad=14)
ax.tick_params(axis='y', pad=5)
for lbl in ax.get_xticklabels() + ax.get_yticklabels():
    lbl.set_fontweight('bold')
for side in ['left', 'bottom']:
    ax.spines[side].set_linewidth(3)
for side in ['top', 'right']:
    ax.spines[side].set_linewidth(2.4)
for sp in ax.spines.values():
    sp.set_zorder(5)

# axis titles
fig.text(fx(506), fy(852), r'$\mathrm{S}_\mathrm{e}$', fontsize=36, va='baseline', ha='left')
fig.text(fx(45), fy(468), r'$a_\alpha$', fontsize=35, color='#23238C', rotation=90,
         ha='center', va='center', math_fontfamily='cm')
fig.text(fx(48), fy(346), r'$m^2m^{-3}$', fontsize=29, rotation=90, ha='center', va='center')

# legend box
fig.add_artist(Rectangle((fx(910), fy(780)), 1.05 - fx(910), fy(29) - fy(780), transform=fig.transFigure,
                         facecolor='white', edgecolor='black', lw=2.2, zorder=0))
for py in [157, 682]:
    fig.add_artist(Line2D([fx(910), 1.0], [fy(py), fy(py)], color='black', lw=2.2, transform=fig.transFigure))

def leg_marker(px, py, **kw):
    fig.add_artist(Line2D([fx(px)], [fy(py)], ls='none', transform=fig.transFigure, **kw))

leg_marker(946, 103, marker='^', ms=12, mfc=c_kim, mec='black', mew=0.8)
leg_marker(948, 270, marker='o', ms=12, mfc=c_25, mec='black', mew=0.8)
leg_marker(946, 413, marker='s', ms=11, mfc=c_50, mec='black', mew=0.8)
leg_marker(946, 557, marker='D', ms=9, mfc=c_75, mec='black', mew=0.8)
leg_marker(947, 732, marker='s', ms=5, mfc=c_sim, mec=c_sim, mew=0)

txt = dict(fontsize=31, fontweight='bold', va='baseline', ha='left')
fig.text(fx(978), fy(117), 'Kim et al. (1997)', **txt)
fig.text(fx(978), fy(228), 'Anwar et al. (2000):', **txt)
fig.text(fx(1008), fy(283), '25 mm,', **txt)
fig.text(fx(1008), fy(428), '50 mm,', **txt)
fig.text(fx(1008), fy(573), '75 mm,', **txt)
fig.text(fx(1002), fy(747), 'simulated', **txt)

for py, val in [(348, '-0.165'), (492, '-0.082'), (637, '-0.029')]:
    fig.text(fx(1008), fy(py), 'log', **txt)
    fig.text(fx(1082), fy(py), 'K', fontsize=31, style='italic', va='baseline', ha='left')
    fig.text(fx(1112), fy(py + 11), 's', fontsize=28, style='italic', va='baseline', ha='left')
    fig.text(fx(1168), fy(py), '= ' + val, **txt)

sym = dict(family=['Liberation Serif', 'DejaVu Serif'], va='baseline', ha='left')
fig.text(fx(1314), fy(100), '\u2020', fontsize=22, **sym)
fig.text(fx(1378), fy(212), '\u2021', fontsize=22, **sym)
fig.text(fx(1214), fy(738), '*', fontsize=26, color='#555555', **sym)

fig.savefig('out.png', dpi=100)
